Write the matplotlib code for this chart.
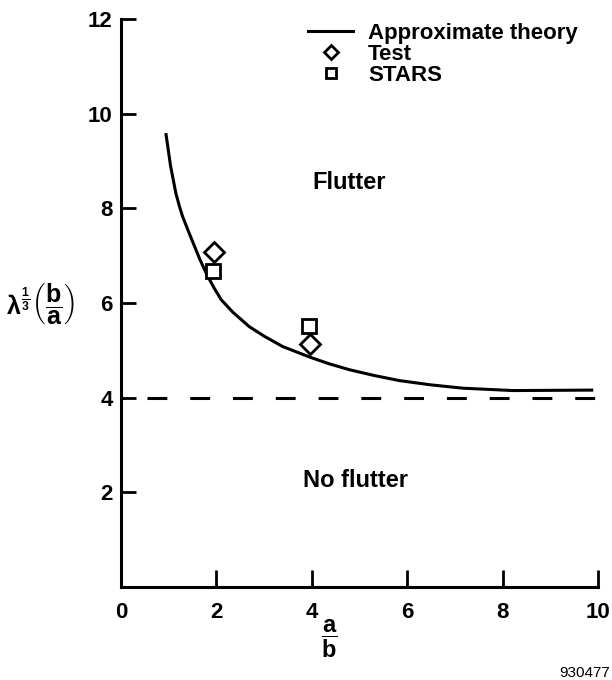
import matplotlib
matplotlib.use("Agg")
import matplotlib.pyplot as plt
from matplotlib.lines import Line2D

# values
theory_x = [0.94, 1.04, 1.15, 1.22, 1.29, 1.40, 1.50, 1.65, 1.80, 1.95, 2.10, 2.35, 2.69, 3.00, 3.39,
            3.95, 4.35, 4.79, 5.30, 5.84, 6.50, 7.17, 8.22, 9.90]
theory_y = [9.59, 8.89, 8.32, 8.06, 7.83, 7.55, 7.30, 6.93, 6.60, 6.32, 6.07, 5.80, 5.50, 5.30, 5.08,
            4.86, 4.72, 4.59, 4.47, 4.36, 4.27, 4.20, 4.15, 4.16]
test_x = [1.95, 3.97]
test_y = [7.08, 5.14]
stars_x = [1.93, 3.95]
stars_y = [6.68, 5.52]
flutter_limit = 4.0
x_ticks = [0, 2, 4, 6, 8, 10]
y_ticks = [2, 4, 6, 8, 10, 12]

plt.rcParams['font.family'] = ['Liberation Sans', 'DejaVu Sans']
plt.rcParams['font.weight'] = 'bold'
plt.rcParams['mathtext.fontset'] = 'custom'
plt.rcParams['mathtext.rm'] = 'Liberation Sans:bold'
plt.rcParams['mathtext.it'] = 'Liberation Sans:bold'
plt.rcParams['mathtext.bf'] = 'Liberation Sans:bold'

fig = plt.figure(figsize=(6.12, 6.8), dpi=100)
ax = fig.add_axes([121 / 612, 1 - 587 / 680, 477 / 612, 568 / 680])

lw = 2.2
ax.plot(theory_x, theory_y, color='black', lw=lw, solid_capstyle='butt', solid_joinstyle='round')
ax.axhline(flutter_limit, color='black', lw=lw, ls=(5.5, (6.5, 7.5)), dash_capstyle='butt')
ax.plot(test_x, test_y, ls='none', marker='D', ms=10, mfc='white', mec='black', mew=2)
ax.plot(stars_x, stars_y, ls='none', marker='s', ms=10, mfc='white', mec='black', mew=2)

ax.set_xlim(0, 10)
ax.set_ylim(0, 12)
ax.set_xticks(x_ticks)
ax.set_yticks(y_ticks)
ax.spines['top'].set_visible(False)
ax.spines['right'].set_visible(False)
ax.spines['left'].set_linewidth(2.2)
ax.spines['bottom'].set_linewidth(2.2)
ax.tick_params(axis='x', direction='in', length=12, width=2, pad=11, labelsize=16)
ax.tick_params(axis='y', direction='in', length=11, width=2, pad=6, labelsize=16)
for lab in ax.get_xticklabels() + ax.get_yticklabels():
    lab.set_fontweight('bold')

ax.text(4.79, 8.54, 'Flutter', ha='center', va='center', fontsize=17, fontweight='bold')
ax.text(4.92, 2.24, 'No flutter', ha='center', va='center', fontsize=17, fontweight='bold')

# axis labels
fig.text(40 / 612, 1 - 304 / 680, r'$\lambda^{\frac{1}{3}}\left(\dfrac{b}{a}\right)$',
         ha='center', va='center', fontsize=18)
fig.text(329 / 612, 1 - 639 / 680, r'$\dfrac{a}{b}$', ha='center', va='center', fontsize=17)
fig.text(610 / 612, 1 - 673 / 680, '930477', ha='right', va='center', fontsize=11, fontweight='normal')

# legend
handles = [
    Line2D([], [], color='black', lw=lw),
    Line2D([], [], ls='none', marker='D', ms=7.5, mfc='white', mec='black', mew=2),
    Line2D([], [], ls='none', marker='s', ms=6.5, mfc='white', mec='black', mew=2),
]
labels = ['Approximate theory', 'Test', 'STARS']
leg = fig.legend(handles, labels, loc='upper left', bbox_to_anchor=(308 / 612, 1 - 23 / 680),
                 bbox_transform=fig.transFigure, frameon=False, borderpad=0, borderaxespad=0,
                 handlelength=2.03, handletextpad=0.68, labelspacing=0.0,
                 prop={'family': 'Liberation Sans', 'weight': 'bold', 'size': 16})

fig.savefig('out.png', dpi=100)
